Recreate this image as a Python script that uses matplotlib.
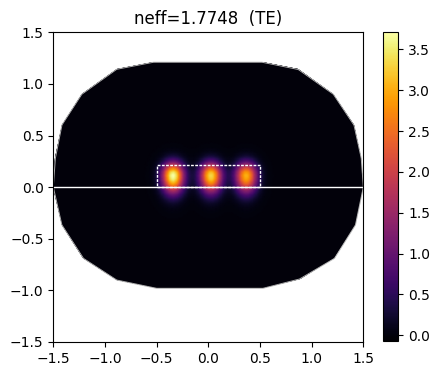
import numpy as np
import matplotlib
matplotlib.use("Agg")
import matplotlib.pyplot as plt
from matplotlib.patches import Polygon, Rectangle

# outline of the simulation domain
outline_x = [1.5, 1.48, 1.41, 1.21, 0.87, 0.52, -0.53, -0.886, -1.224, -1.416, -1.48, -1.5,
             -1.417, -1.208, -0.886, -0.50, 0.529, 0.883, 1.221, 1.424]
outline_y = [0.0, 0.28, 0.60, 0.90, 1.14, 1.21, 1.21, 1.142, 0.90, 0.603, 0.28, 0.0,
             -0.366, -0.69, -0.90, -0.98, -0.98, -0.89, -0.69, -0.366]

# waveguide core box
core_x = [-0.5, 0.5]
core_y = [0.0, 0.215]

# mode lobes: centre x, centre y, peak value
lobe_x = [-0.34, 0.027, 0.368]
lobe_y = [0.115, 0.115, 0.115]
lobe_peak = [3.71, 3.35, 3.05]
lobe_sx = 0.074
lobe_sy_up = 0.088
lobe_sy_down = 0.115

clim = (-0.07, 3.71)
cbar_ticks = [0.0, 0.5, 1.0, 1.5, 2.0, 2.5, 3.0, 3.5]
axis_ticks = [-1.5, -1.0, -0.5, 0.0, 0.5, 1.0, 1.5]

fig = plt.figure(figsize=(4.39, 3.74), dpi=100)
ax = fig.add_axes([0.1214, 0.0856, 0.7062, 0.828])
cax = fig.add_axes([0.873, 0.0882, 0.0342, 0.8254])

xs = np.linspace(-1.5, 1.5, 241)
ys = np.linspace(-1.0, 1.25, 181)
X, Y = np.meshgrid(xs, ys)
Z = np.zeros_like(X)
for cx, cy, a in zip(lobe_x, lobe_y, lobe_peak):
    sy = np.where(Y >= cy, lobe_sy_up, lobe_sy_down)
    Z += a * np.exp(-(X - cx) ** 2 / (2 * lobe_sx ** 2) - (Y - cy) ** 2 / (2 * sy ** 2))

mesh = ax.pcolormesh(X, Y, Z, cmap="inferno", vmin=clim[0], vmax=clim[1], shading="gouraud")
domain = Polygon(np.column_stack([outline_x, outline_y]), closed=True,
                 facecolor="none", edgecolor="0.7", lw=0.7)
ax.add_patch(domain)
mesh.set_clip_path(domain)

ax.plot([outline_x[0], outline_x[11]], [0, 0], color="white", lw=1)
ax.add_patch(Rectangle((core_x[0], core_y[0]), core_x[1] - core_x[0], core_y[1] - core_y[0],
                       fill=False, edgecolor="white", lw=1, linestyle=(0, (2, 1))))

ax.set_xlim(-1.5, 1.5)
ax.set_ylim(-1.5, 1.5)
ax.set_xticks(axis_ticks)
ax.set_yticks(axis_ticks)
ax.set_title("neff=1.7748  (TE)")

cb = fig.colorbar(mesh, cax=cax)
cb.set_ticks(cbar_ticks)

fig.savefig("out.png", dpi=100)
